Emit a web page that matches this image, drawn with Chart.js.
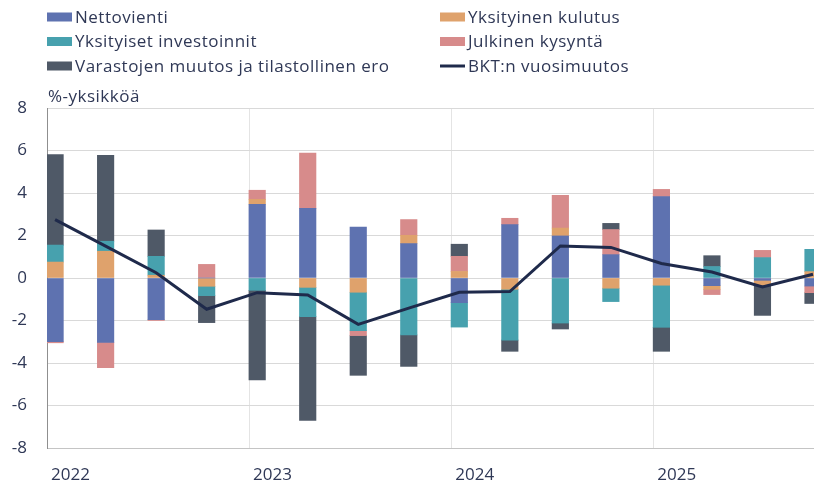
<!DOCTYPE html>
<html lang="fi">
<head>
    <meta charset="UTF-8">
    <title>BKT:n vuosimuutos ja kysyntäerät</title>
    <script src="https://cdn.jsdelivr.net/npm/chart.js"></script>
    <style>
        body, html {
            margin: 0;
            padding: 0;
            background: #ffffff;
            overflow: hidden;
        }
        #wrap {
            width: 814px;
            height: 487px;
        }
    </style>
</head>
<body>
    <div id="wrap"><canvas id="gdpChart" width="814" height="487"></canvas></div>

    <script>
        const quarters = ["2022Q1", "2022Q2", "2022Q3", "2022Q4", "2023Q1", "2023Q2", "2023Q3", "2023Q4",
            "2024Q1", "2024Q2", "2024Q3", "2024Q4", "2025Q1", "2025Q2", "2025Q3", "2025Q4"];
        const yearLabels = ["2022", "2023", "2024", "2025"];

        const nettovienti = [-3.0, -3.03, -1.96, 0, 3.47, 3.28, 2.4, 1.62, -1.16, 2.51, 1.98, 1.1, 3.83, -0.36, -0.11, -0.38];
        const kulutus = [0.75, 1.26, 0.13, -0.39, 0.23, -0.44, -0.67, 0.39, 0.31, -0.53, 0.37, -0.48, -0.34, -0.17, -0.23, 0.3];
        const investoinnit = [0.8, 0.47, 0.89, -0.44, -0.58, -1.38, -1.81, -2.68, -1.15, -2.39, -2.12, -0.63, -1.98, 0.54, 0.96, 1.05];
        const julkinen = [-0.05, -1.19, -0.04, 0.64, 0.43, 2.6, -0.23, 0.74, 0.71, 0.3, 1.54, 1.18, 0.34, -0.25, 0.34, -0.31];
        const varastot = [4.26, 4.04, 1.24, -1.27, -4.22, -4.88, -1.87, -1.48, 0.57, -0.53, -0.28, 0.29, -1.13, 0.51, -1.42, -0.51];
        const bkt = [2.75, 1.5, 0.25, -1.47, -0.69, -0.8, -2.18, -1.42, -0.67, -0.64, 1.51, 1.44, 0.68, 0.28, -0.42, 0.18];

        const textColor = '#2f3856';
        const fontFamily = '"Open Sans", "Noto Sans", sans-serif';
        // x axis runs in quarter steps, starting a little before the first bar
        const xMin = -0.16;
        const xMax = 15.02;

        const toPoints = (arr) => arr.map((v, i) => ({ x: i, y: v }));
        const bar = (label, values, color) => ({
            type: 'bar',
            label: label,
            data: toPoints(values),
            backgroundColor: color,
            borderWidth: 0,
            barThickness: 16.5,
            stack: 'parts',
            order: 2
        });

        // two-column legend and the unit text above the plot
        const topTexts = {
            id: 'topTexts',
            afterDraw(chart) {
                const ctx = chart.ctx;
                ctx.save();
                ctx.font = '17px ' + fontFamily;
                ctx.letterSpacing = '0.5px';
                ctx.fillStyle = textColor;
                ctx.textBaseline = 'middle';
                ctx.textAlign = 'left';
                chart.data.datasets.forEach((ds, i) => {
                    const x = i % 2 === 0 ? 47 : 440;
                    const y = 17 + Math.floor(i / 2) * 24.5;
                    if (ds.type === 'line') {
                        ctx.strokeStyle = ds.borderColor;
                        ctx.lineWidth = 3;
                        ctx.beginPath();
                        ctx.moveTo(x, y);
                        ctx.lineTo(x + 25, y);
                        ctx.stroke();
                    } else {
                        ctx.fillStyle = ds.backgroundColor;
                        ctx.fillRect(x, y - 4.5, 25, 9);
                    }
                    ctx.fillStyle = textColor;
                    ctx.fillText(ds.label, x + 28, y + 1);
                });
                ctx.fillText('%-yksikköä', 48, 97);
                ctx.restore();
            }
        };

        const ctxGdp = document.getElementById('gdpChart').getContext('2d');
        new Chart(ctxGdp, {
            data: {
                datasets: [
                    bar('Nettovienti', nettovienti, '#5e72b0'),
                    bar('Yksityinen kulutus', kulutus, '#dfa26c'),
                    bar('Yksityiset investoinnit', investoinnit, '#47a1ae'),
                    bar('Julkinen kysyntä', julkinen, '#d78b8b'),
                    bar('Varastojen muutos ja tilastollinen ero', varastot, '#4f5967'),
                    {
                        type: 'line',
                        label: 'BKT:n vuosimuutos',
                        data: toPoints(bkt),
                        borderColor: '#1f2a4b',
                        borderWidth: 3,
                        pointRadius: 0,
                        tension: 0,
                        stack: 'gdp',
                        order: 1
                    }
                ]
            },
            plugins: [topTexts],
            options: {
                responsive: false,
                animation: false,
                layout: { padding: { top: 108, left: 0, right: 0, bottom: 0 } },
                scales: {
                    x: {
                        type: 'linear',
                        min: xMin,
                        max: xMax,
                        offset: false,
                        stacked: true,
                        afterBuildTicks: (scale) => {
                            scale.ticks = yearLabels.map((_, i) => ({ value: xMin + 4 * i }));
                        },
                        afterFit: (scale) => { scale.height = 39; },
                        ticks: {
                            callback: (value, index) => yearLabels[index],
                            align: 'start',
                            labelOffset: 4,
                            padding: 17,
                            maxRotation: 0,
                            autoSkip: false,
                            color: textColor,
                            font: { family: fontFamily, size: 17 }
                        },
                        grid: { color: '#e4e4e4', drawTicks: false, offset: false },
                        border: { color: '#c4c4c4' }
                    },
                    y: {
                        min: -8,
                        max: 8,
                        stacked: true,
                        afterFit: (scale) => { scale.width = 47; },
                        ticks: {
                            stepSize: 2,
                            padding: 20,
                            color: textColor,
                            font: { family: fontFamily, size: 17 }
                        },
                        grid: { color: '#d9d9d9', drawTicks: false },
                        border: { color: '#8f8f8f' }
                    }
                },
                plugins: {
                    legend: { display: false },
                    tooltip: { enabled: false }
                }
            }
        });
    </script>
</body>
</html>
